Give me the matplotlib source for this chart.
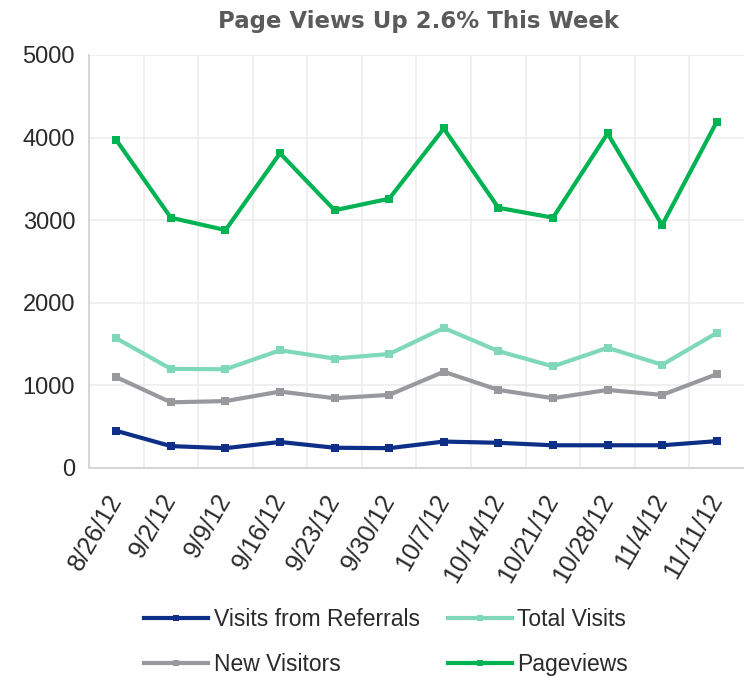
import matplotlib
matplotlib.use("Agg")
import matplotlib.pyplot as plt
import numpy as np

dates = ["8/26/12", "9/2/12", "9/9/12", "9/16/12", "9/23/12", "9/30/12",
         "10/7/12", "10/14/12", "10/21/12", "10/28/12", "11/4/12", "11/11/12"]
referrals = [450, 265, 240, 315, 245, 240, 320, 305, 275, 275, 275, 325]
total_visits = [1570, 1200, 1195, 1425, 1325, 1380, 1695, 1415, 1230, 1455, 1250, 1635]
new_visitors = [1100, 795, 810, 925, 845, 885, 1165, 945, 845, 945, 885, 1135]
pageviews = [3970, 3030, 2880, 3810, 3120, 3260, 4110, 3150, 3030, 4050, 2940, 4190]

series = [
    ("Visits from Referrals", referrals, "#0d2f87"),
    ("Total Visits", total_visits, "#7fd8b9"),
    ("New Visitors", new_visitors, "#97999d"),
    ("Pageviews", pageviews, "#00b352"),
]

plt.rcParams['font.family'] = ['Liberation Sans', 'DejaVu Sans']

fig = plt.figure(figsize=(7.44, 6.76), dpi=100)
ax = fig.add_axes([0.1196, 0.3077, 0.8804, 0.611])

x = np.arange(len(dates))
handles = {}
for name, vals, col in series:
    h, = ax.plot(x, vals, color=col, lw=3.0, marker='s', markersize=5.5,
                 markeredgewidth=0, label=name)
    handles[name] = h

ax.set_xlim(-0.5, len(dates) - 0.5)
ax.set_ylim(0, 5000)
ax.set_yticks([0, 1000, 2000, 3000, 4000, 5000])
ax.set_xticks(x)
ax.set_xticklabels(dates, rotation=60, ha='right', va='center', rotation_mode='anchor',
                   fontsize=18, color='#2a2a2a')
ax.set_xticks(np.arange(0.5, len(dates) - 0.5, 1.0), minor=True)
ax.tick_params(axis='y', labelsize=17, colors='#2a2a2a', length=0, pad=10)
ax.tick_params(axis='x', which='major', length=0, pad=20)
ax.tick_params(axis='x', which='minor', length=0)
ax.grid(axis='y', color='#ececec', lw=1.2)
ax.grid(axis='x', which='minor', color='#ececec', lw=1.2)
ax.set_axisbelow(True)
for s in ['top', 'right']:
    ax.spines[s].set_visible(False)
ax.spines['left'].set_color('#cfcfcf')
ax.spines['left'].set_linewidth(1.2)
ax.spines['bottom'].set_color('#d6d6d6')
ax.spines['bottom'].set_linewidth(1.5)

fig.text(0.562, 0.968, "Page Views Up 2.6% This Week", ha='center', va='center',
         fontsize=16.5, fontweight='bold', color='#5b5b5b', family=['DejaVu Sans'])

order = ["Visits from Referrals", "New Visitors", "Total Visits", "Pageviews"]
leg = fig.legend(handles=[handles[n] for n in order], loc='center',
                 bbox_to_anchor=(0.519, 0.05),
                 ncol=2, frameon=False, fontsize=16.5, handlelength=2.8,
                 handletextpad=0.25, columnspacing=1.2, labelspacing=0.95,
                 markerscale=0.7, borderaxespad=0, borderpad=0)
for t in leg.get_texts():
    t.set_color('#2a2a2a')

fig.savefig("out.png", dpi=100)
